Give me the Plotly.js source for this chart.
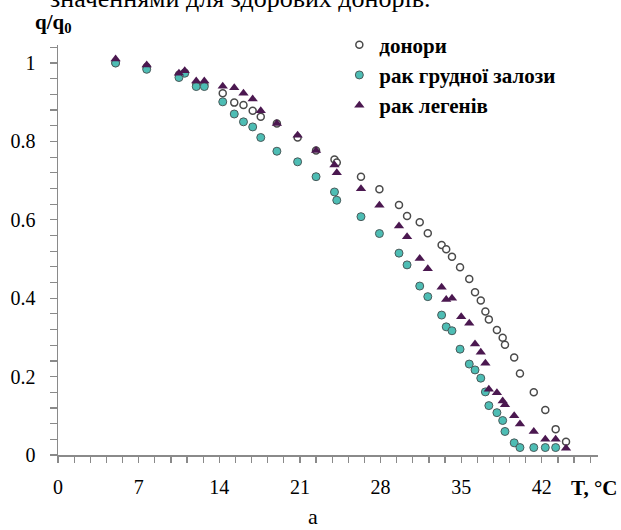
<!DOCTYPE html>
<html>
<head>
<meta charset="utf-8">
<script src="https://cdn.plot.ly/plotly-3.0.1.min.js"></script>
<style>html,body{margin:0;padding:0;background:#fff;}#chart{width:621px;height:530px;}</style>
</head>
<body>
<div id="chart"></div>
<script>
// Temperature (°C) and relative values q/q0
const donorT = [5, 7.7, 10.5, 11.0, 12.0, 12.7, 14.3, 15.3, 16.1, 16.9, 17.6, 19.0, 20.8, 22.4, 24.0, 24.2, 26.3, 27.9, 29.6, 30.3, 31.4, 32.1, 33.3, 33.7, 34.2, 34.9, 35.7, 36.2, 36.7, 37.1, 37.4, 38.1, 38.6, 38.8, 39.6, 40.1, 41.3, 42.3, 43.2, 44.1];
const donorQ = [1.0, 0.99, 0.97, 0.975, 0.945, 0.945, 0.923, 0.899, 0.893, 0.878, 0.863, 0.846, 0.81, 0.777, 0.754, 0.746, 0.71, 0.678, 0.638, 0.61, 0.594, 0.566, 0.536, 0.525, 0.506, 0.479, 0.449, 0.415, 0.394, 0.366, 0.346, 0.319, 0.299, 0.281, 0.249, 0.208, 0.16, 0.115, 0.066, 0.034];

const breastT = [5, 7.7, 10.5, 11.0, 12.0, 12.7, 14.3, 15.3, 16.1, 16.9, 17.6, 19.0, 20.8, 22.4, 24.0, 24.2, 26.3, 27.9, 29.6, 30.3, 31.4, 32.1, 33.3, 33.7, 34.2, 34.9, 35.7, 36.2, 36.7, 37.1, 37.4, 38.1, 38.6, 38.8, 39.6, 40.1, 41.3, 42.3, 43.2];
const breastQ = [1.0, 0.984, 0.963, 0.974, 0.94, 0.94, 0.901, 0.87, 0.85, 0.837, 0.81, 0.775, 0.748, 0.71, 0.671, 0.65, 0.608, 0.565, 0.515, 0.485, 0.431, 0.404, 0.357, 0.327, 0.317, 0.27, 0.232, 0.217, 0.196, 0.161, 0.126, 0.108, 0.088, 0.06, 0.031, 0.019, 0.019, 0.019, 0.019];

const lungT = [5, 7.7, 10.5, 11.0, 12.0, 12.7, 14.3, 15.3, 16.1, 16.9, 17.6, 19.0, 20.8, 22.4, 24.0, 24.2, 26.3, 27.9, 29.6, 30.3, 31.4, 32.1, 33.3, 33.7, 34.2, 35.0, 35.7, 36.2, 36.7, 37.1, 37.4, 38.1, 38.6, 38.8, 39.6, 40.1, 41.3, 42.3, 43.2, 44.1];
const lungQ = [1.01, 0.995, 0.974, 0.98, 0.954, 0.954, 0.941, 0.937, 0.923, 0.908, 0.878, 0.846, 0.816, 0.777, 0.74, 0.72, 0.679, 0.637, 0.584, 0.557, 0.501, 0.475, 0.428, 0.397, 0.40, 0.353, 0.336, 0.283, 0.262, 0.234, 0.168, 0.159, 0.138, 0.128, 0.10, 0.079, 0.06, 0.04, 0.04, 0.017];

const seriesNames = ['донори', 'рак грудної залози', 'рак легенів'];
const xTickVals = [0, 7, 14, 21, 28, 35, 42];
const yTickVals = [0, 0.2, 0.4, 0.6, 0.8, 1];
const yTickText = ['0', '0.2', '0.4', '0.6', '0.8', '1'];

const serif = '"Liberation Serif"';
const axisGray = '#8a8a8a';

const traces = [
  {x: donorT, y: donorQ, name: seriesNames[0], type: 'scatter', mode: 'markers',
   marker: {symbol: 'circle', size: 7, color: '#ffffff', line: {color: '#4a4a4a', width: 1.5}}},
  {x: breastT, y: breastQ, name: seriesNames[1], type: 'scatter', mode: 'markers',
   marker: {symbol: 'circle', size: 8, color: '#4dbdb4', line: {color: '#4a5a5a', width: 1}}},
  {x: lungT, y: lungQ, name: seriesNames[2], type: 'scatter', mode: 'markers',
   marker: {symbol: 'triangle-up', size: 9, color: '#4b1850', line: {color: '#4b1850', width: 0}}}
];

const layout = {
  width: 621, height: 530,
  margin: {l: 58, r: 23, t: 45, b: 75},
  paper_bgcolor: '#ffffff', plot_bgcolor: '#ffffff',
  font: {family: serif, color: '#000000', size: 20},
  showlegend: true,
  legend: {x: 0.521, y: 1.05, xanchor: 'left', yanchor: 'top', bgcolor: 'rgba(0,0,0,0)',
           font: {family: serif, size: 21, color: '#000000', weight: 'bold'}},
  xaxis: {range: [0, 46.875], tickvals: xTickVals, ticktext: xTickVals.map(String),
          showline: true, linecolor: axisGray, linewidth: 1.5, showgrid: false, zeroline: false,
          ticks: 'outside', ticklen: 6, tickcolor: axisGray, tickwidth: 1.2,
          ticklabelstandoff: 7, tickfont: {family: serif, size: 20, color: '#000'},
          minor: {tick0: 0, dtick: 1.4, ticks: 'outside', ticklen: 6, tickcolor: axisGray, tickwidth: 1.2, showgrid: false},
          fixedrange: true},
  yaxis: {range: [0, 1.046], tickvals: yTickVals, ticktext: yTickText,
          showline: true, linecolor: axisGray, linewidth: 1.5, showgrid: false, zeroline: false,
          ticks: 'outside', ticklen: 7, tickcolor: axisGray, tickwidth: 1.2,
          ticklabelstandoff: 10, tickfont: {family: serif, size: 20, color: '#000'},
          minor: {tick0: 0, dtick: 0.04, ticks: 'outside', ticklen: 7, tickcolor: axisGray, tickwidth: 1.2, showgrid: false},
          fixedrange: true},
  annotations: [
    {text: 'q/q<sub>0</sub>', xref: 'paper', yref: 'paper', x: -0.046, y: 1.054, xanchor: 'left', yanchor: 'middle',
     showarrow: false, font: {family: serif, size: 21, weight: 'bold', color: '#000'}},
    {text: 'T, °C', xref: 'paper', yref: 'paper', x: 1.04, y: -0.08, xanchor: 'right', yanchor: 'middle',
     showarrow: false, font: {family: serif, size: 21, weight: 'bold', color: '#000'}},
    {text: 'a', xref: 'paper', yref: 'paper', x: 0.472, y: -0.15, xanchor: 'center', yanchor: 'middle',
     showarrow: false, font: {family: serif, size: 22, color: '#000'}},
    {text: 'значеннями для здорових донорів.', xref: 'paper', yref: 'paper', x: 0.693, y: 1.114, xanchor: 'right', yanchor: 'middle',
     showarrow: false, font: {family: serif, size: 26, color: '#000'}}
  ]
};

Plotly.newPlot('chart', traces, layout, {displayModeBar: false, staticPlot: true});
</script>
</body>
</html>
